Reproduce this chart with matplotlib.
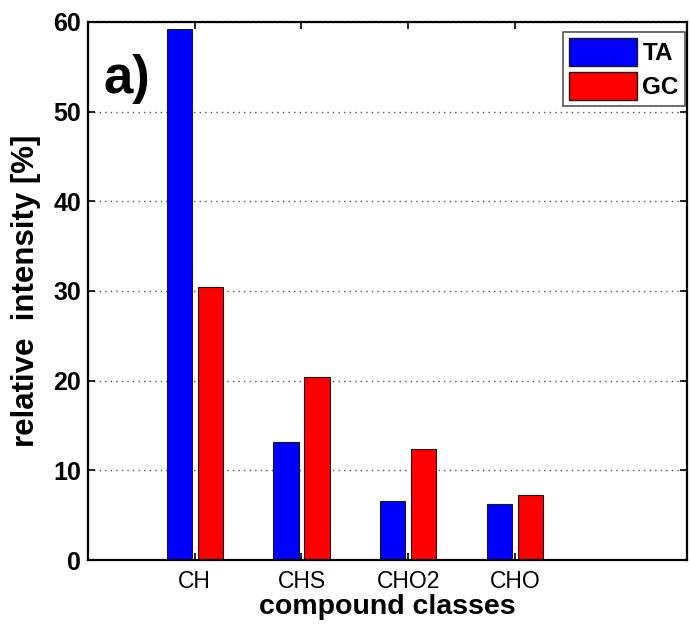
import numpy as np
import matplotlib.pyplot as plt
from matplotlib.patches import Patch

classes = ["CH", "CHS", "CHO2", "CHO"]
ta_values = [59.2, 13.2, 6.6, 6.2]
gc_values = [30.4, 20.4, 12.4, 7.2]
y_ticks = [0, 10, 20, 30, 40, 50, 60]

plt.rcParams["font.family"] = ["Liberation Sans", "DejaVu Sans"]
plt.rcParams["font.weight"] = "bold"


def plot_compound_classes():
    fig = plt.figure(figsize=(6.9, 6.25), dpi=100)
    ax = fig.add_axes([0.1275, 0.104, 0.868, 0.861])

    x = np.arange(1, len(classes) + 1)
    w = 0.235
    off = 0.145
    ax.bar(x - off, ta_values, w, color="#0000ff", edgecolor="#1a1a1a", linewidth=0.8, zorder=3)
    ax.bar(x + off, gc_values, w, color="#ff0000", edgecolor="#1a1a1a", linewidth=0.8, zorder=3)

    ax.set_xlim(0, 5.61)
    ax.set_ylim(0, 60)
    ax.set_xticks(x)
    ax.set_xticklabels(classes, fontweight="normal")
    ax.set_yticks(y_ticks)
    ax.tick_params(axis="both", direction="in", length=5, width=1.2,
                   top=True, right=True)
    ax.tick_params(axis="y", labelsize=18, pad=5)
    ax.tick_params(axis="x", labelsize=16.5, pad=7)
    for lab in ax.get_yticklabels():
        lab.set_fontweight("bold")

    ax.yaxis.grid(True, linestyle=(0, (1, 3)), color="#555555", linewidth=1.0, zorder=0)
    for s in ax.spines.values():
        s.set_linewidth(1.6)
        s.set_zorder(4)

    ax.set_ylabel("relative  intensity [%]", fontsize=22.5, fontweight="bold", labelpad=9)
    ax.set_xlabel("compound classes", fontsize=20.5, fontweight="bold", labelpad=1)

    ax.text(0.026, 0.894, "a)", transform=ax.transAxes, fontsize=38,
            fontweight="bold", ha="left", va="center")

    handles = [Patch(facecolor="#0000ff", edgecolor="#1a1a1a", label="TA"),
               Patch(facecolor="#ff0000", edgecolor="#1a1a1a", label="GC")]
    leg = ax.legend(handles=handles, loc="upper right", bbox_to_anchor=(0.9965, 0.982),
                    prop={"weight": "bold", "size": 17.5}, handlelength=2.8,
                    handleheight=1.4, handletextpad=0.2, borderpad=0.25, labelspacing=0.25,
                    fancybox=False, framealpha=1, edgecolor="#555555", borderaxespad=0)
    leg.get_frame().set_linewidth(1.2)

    fig.savefig("out.png", dpi=100)


if __name__ == "__main__":
    plot_compound_classes()
